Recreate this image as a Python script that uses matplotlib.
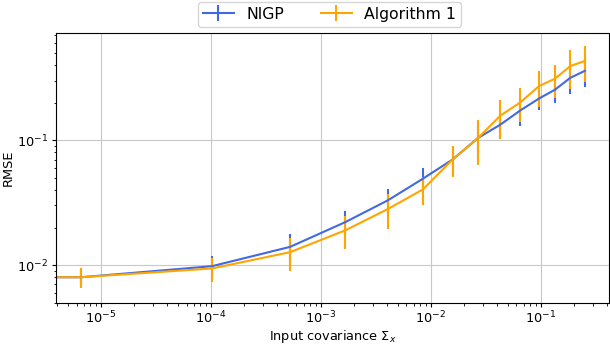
import numpy as np
import matplotlib.pyplot as plt

# input covariance values
sigma_x = [2e-6, 6.6e-6, 1.02e-4, 5.25e-4, 1.67e-3, 4.09e-3, 8.45e-3, 1.58e-2,
           2.70e-2, 4.28e-2, 6.51e-2, 9.6e-2, 0.135, 0.185, 0.252]

nigp_rmse = [0.0080, 0.0080, 0.0098, 0.0140, 0.0221, 0.0331, 0.0491, 0.0701,
             0.1045, 0.133, 0.173, 0.215, 0.254, 0.315, 0.359]
nigp_err = [0.0012, 0.0012, 0.0020, 0.0036, 0.0049, 0.0077, 0.011, 0.018,
            0.038, 0.030, 0.042, 0.042, 0.054, 0.083, 0.095]

alg1_rmse = [0.0080, 0.0080, 0.0094, 0.0127, 0.0190, 0.0282, 0.0403, 0.0701,
             0.1045, 0.157, 0.2005, 0.270, 0.311, 0.391, 0.431]
alg1_err = [0.0015, 0.0015, 0.0021, 0.0038, 0.0056, 0.0087, 0.0100, 0.019,
            0.041, 0.054, 0.062, 0.085, 0.092, 0.135, 0.14]

plt.rcParams.update({
    'font.size': 9.3,
    'axes.linewidth': 0.8,
    'grid.linewidth': 0.8,
    'grid.color': '#c8c8c8',
    'xtick.major.size': 3.2, 'ytick.major.size': 3.2,
    'xtick.minor.size': 1.8, 'ytick.minor.size': 1.8,
    'xtick.major.pad': 1.5, 'ytick.major.pad': 2.5,
    'axes.labelpad': 1.5,
})

fig = plt.figure(figsize=(6.1, 3.44), dpi=100)
ax = fig.add_axes([0.0918, 0.119, 0.9062, 0.785])

ax.errorbar(sigma_x, nigp_rmse, yerr=nigp_err, color='royalblue', lw=1.5,
            elinewidth=1.5, label='NIGP')
ax.errorbar(sigma_x, alg1_rmse, yerr=alg1_err, color='orange', lw=1.5,
            elinewidth=1.5, label='Algorithm 1')

ax.set_xscale('log')
ax.set_yscale('log')
ax.set_xlim(3.9e-6, 0.415)
ax.set_ylim(0.00497, 0.72)
ax.grid(True, which='major')
ax.set_xlabel(r'Input covariance $\Sigma_x$')
ax.set_ylabel('RMSE')
ax.legend(loc='lower center', bbox_to_anchor=(0.495, 0.995), ncol=2,
          fontsize=11.3, borderpad=0.3, columnspacing=2.3)

fig.savefig('out.png', dpi=100)
